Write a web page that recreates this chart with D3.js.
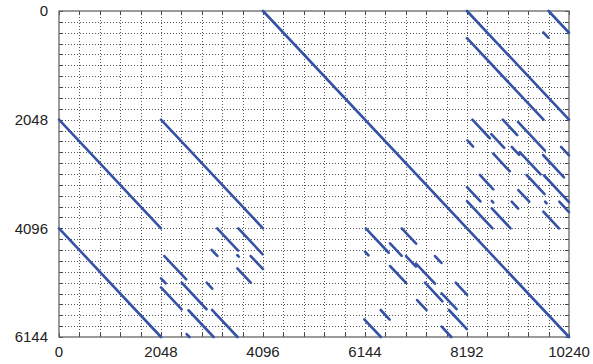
<!DOCTYPE html>
<html><head><meta charset="utf-8">
<script src="https://cdn.jsdelivr.net/npm/d3@7"></script>
<style>body{margin:0;background:#fff}svg{display:block}</style>
</head><body>
<script>
// segments: [startColumn, startRow, length] (slope-1 diagonal runs)
const mainSegments = [
  [4096,0,6144],[0,2048,2048],[2048,2048,2048],[0,4096,2048],
  [8192,0,2048],[8192,512,1536],[9830,0,410],[9724,402,100]
];
const upperRightSegments = [
  [8300,2048,350],[8680,2320,260],[8910,2048,290],[9216,2090,540],
  [8200,2440,115],[9090,2560,150],[8720,2690,330],[9250,2660,420],
  [9720,2714,420],[10080,2560,160],[9740,3100,500],[8450,3090,270],
  [8192,3320,270],[8192,3584,512],[8690,3580,30],[8690,3720,376],
  [9090,3594,130],[9222,3374,220],[9390,3091,360],[9760,3594,30],
  [9724,3782,314],[10045,3594,195]
];
const lowerMidSegments = [
  [3176,4096,420],[3600,4096,490],[3066,4504,113],[3580,4600,30],
  [3849,4618,247],[3580,4850,270],[2115,4618,440],[2048,5039,95],
  [2048,5208,415],[2463,5121,500],[2965,5121,113],[2600,5640,504],
  [2563,6088,56],[3072,5632,512]
];
const lowerRightSegments = [
  [6160,4096,460],[6144,4536,70],[6646,4379,235],[6881,4096,290],
  [6967,4618,200],[7168,4760,380],[7549,4618,130],[6646,4806,320],
  [7349,5121,350],[7683,5320,300],[7965,5121,230],[7190,5447,190],
  [6459,5635,180],[7830,5635,360],[6130,5811,333],[7683,5950,194]
];
const xTickLabels = [0,2048,4096,6144,8192,10240];
const yTickLabels = [0,2048,4096,6144];
const xGridStep = 409.6, yGridStep = 204.8;
const xMax = 10240, yMax = 6144;

const W = 593, H = 364;
const svg = d3.select("body").append("svg").attr("width", W).attr("height", H);
const x = d3.scaleLinear().domain([0, xMax]).range([59, 569]);
const y = d3.scaleLinear().domain([0, yMax]).range([11, 337]);

const xGrid = d3.range(0, 26).map(i => i * xGridStep);
const yGrid = d3.range(0, 31).map(i => i * yGridStep);

const g = svg.append("g");
// grid
g.selectAll("line.vg").data(xGrid.slice(1, -1)).join("line")
  .attr("x1", d => Math.round(x(d)) + 0.5).attr("x2", d => Math.round(x(d)) + 0.5)
  .attr("y1", y(0)).attr("y2", y(yMax))
  .attr("stroke", "#555").attr("stroke-width", 1).attr("stroke-dasharray", "1,2");
g.selectAll("line.hg").data(yGrid.slice(1, -1)).join("line")
  .attr("y1", d => Math.round(y(d)) + 0.5).attr("y2", d => Math.round(y(d)) + 0.5)
  .attr("x1", x(0)).attr("x2", x(xMax))
  .attr("stroke", "#555").attr("stroke-width", 1).attr("stroke-dasharray", "1,2");

// inward ticks
const tickLen = 4, tickCol = "#444";
xGrid.forEach(d => {
  const px = Math.round(x(d)) + 0.5;
  g.append("line").attr("x1", px).attr("x2", px).attr("y1", y(0)).attr("y2", y(0) + tickLen).attr("stroke", tickCol);
  g.append("line").attr("x1", px).attr("x2", px).attr("y1", y(yMax)).attr("y2", y(yMax) - tickLen).attr("stroke", tickCol);
});
yGrid.forEach(d => {
  const py = Math.round(y(d)) + 0.5;
  g.append("line").attr("y1", py).attr("y2", py).attr("x1", x(0)).attr("x2", x(0) + tickLen).attr("stroke", tickCol);
  g.append("line").attr("y1", py).attr("y2", py).attr("x1", x(xMax)).attr("x2", x(xMax) - tickLen).attr("stroke", tickCol);
});

// frame
g.append("rect").attr("x", x(0)).attr("y", y(0))
  .attr("width", x(xMax) - x(0)).attr("height", y(yMax) - y(0))
  .attr("fill", "none").attr("stroke", "#666").attr("stroke-width", 1.3);

// segments
const allSegs = [].concat(mainSegments, upperRightSegments, lowerMidSegments, lowerRightSegments);
g.selectAll("line.seg").data(allSegs).join("line")
  .attr("x1", d => x(d[0])).attr("y1", d => y(d[1]))
  .attr("x2", d => x(d[0] + d[2])).attr("y2", d => y(d[1] + d[2]))
  .attr("stroke", "#3552a4").attr("stroke-width", 2.6).attr("stroke-linecap", "round");

// axes labels
const font = "'Liberation Sans', Arial, sans-serif";
svg.selectAll("text.yl").data(yTickLabels).join("text")
  .attr("x", 48).attr("y", d => y(d)).attr("dy", "0.35em")
  .attr("text-anchor", "end").attr("font-family", font).attr("font-size", 15).attr("fill", "#222")
  .text(d => d);
svg.selectAll("text.xl").data(xTickLabels).join("text")
  .attr("x", d => x(d)).attr("y", 357)
  .attr("text-anchor", "middle").attr("font-family", font).attr("font-size", 15).attr("fill", "#222")
  .text(d => d);
</script>
</body></html>
